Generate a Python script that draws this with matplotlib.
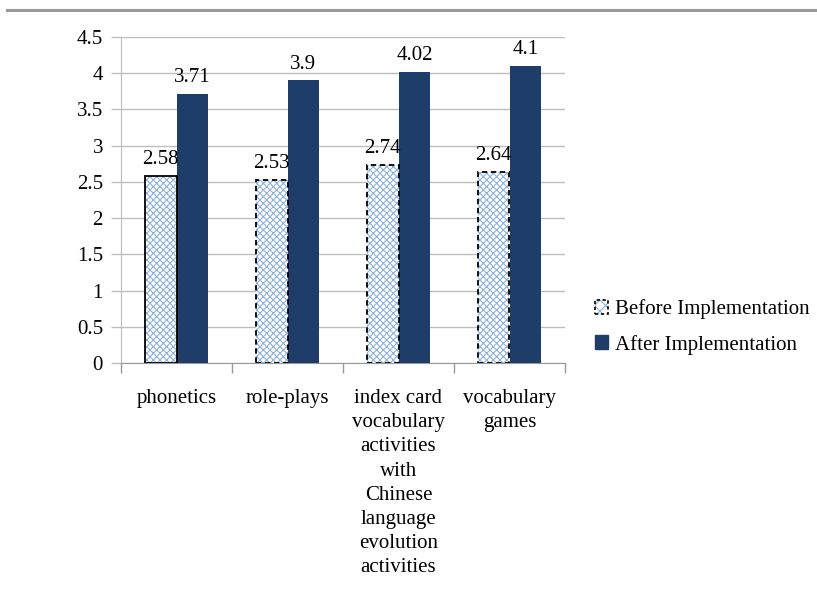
import matplotlib
matplotlib.use("Agg")
import matplotlib.pyplot as plt
from matplotlib.patches import Patch
from matplotlib.lines import Line2D
from matplotlib.legend_handler import HandlerTuple
import numpy as np

categories = [
    "phonetics",
    "role-plays",
    "index card\nvocabulary\nactivities\nwith\nChinese\nlanguage\nevolution\nactivities",
    "vocabulary\ngames",
]
before = [2.58, 2.53, 2.74, 2.64]
after = [3.71, 3.9, 4.02, 4.1]
y_ticks = [0, 0.5, 1, 1.5, 2, 2.5, 3, 3.5, 4, 4.5]
y_tick_labels = ["0", "0.5", "1", "1.5", "2", "2.5", "3", "3.5", "4", "4.5"]
series_names = ["Before Implementation", "After Implementation"]

plt.rcParams["font.family"] = ["Liberation Serif", "DejaVu Serif"]
plt.rcParams["hatch.linewidth"] = 0.8

AFTER_COLOR = "#1f3d69"
HATCH_COLOR = "#8fb1dd"
GRID_COLOR = "#bdbdbd"
FS = 15

fig = plt.figure(figsize=(8.17, 5.97), dpi=100)

# thin rule across the top of the page
fig.add_artist(Line2D([7 / 817, 1.0], [1 - 10 / 597, 1 - 10 / 597],
                      color="#9a9a9a", lw=2.2, transform=fig.transFigure))

ax = fig.add_axes([121 / 817, 234 / 597, 444 / 817, 326 / 597])

x = np.arange(len(categories))
w = 0.288

# Before bars: hatched, black outline (first solid, others dashed)
for i, v in enumerate(before):
    ls = "-" if i == 0 else (0, (3, 2))
    ax.bar(x[i] - w / 2, v, width=w, color="white", edgecolor=HATCH_COLOR,
           hatch="xxxxx", linewidth=0, zorder=3)
    ax.bar(x[i] - w / 2, v, width=w, fill=False, edgecolor="black",
           linewidth=1.3, linestyle=ls, zorder=4)
    ax.annotate(f"{v:g}", (x[i] - w / 2, v), xytext=(0, 5),
                textcoords="offset points", ha="center", va="bottom",
                fontsize=FS, zorder=5)

ax.bar(x + w / 2, after, width=w, color=AFTER_COLOR, linewidth=0, zorder=3)
for i, v in enumerate(after):
    ax.annotate(f"{v:g}", (x[i] + w / 2, v), xytext=(0, 5),
                textcoords="offset points", ha="center", va="bottom",
                fontsize=FS, zorder=5)

ax.set_xlim(-0.5, len(categories) - 0.5)
ax.set_ylim(0, 4.5)
ax.set_yticks(y_ticks)
ax.set_yticklabels(y_tick_labels, fontsize=FS)
ax.yaxis.grid(True, color=GRID_COLOR, lw=1, zorder=0)
ax.set_axisbelow(True)
ax.tick_params(axis="y", length=7, color=GRID_COLOR, width=1, pad=6)

ax.set_xticks(np.arange(-0.5, len(categories), 1.0))
ax.set_xticklabels([])
ax.set_xticks(x, minor=True)
ax.set_xticklabels(categories, minor=True, fontsize=FS, linespacing=1.36)
ax.tick_params(axis="x", which="major", length=7, color="#999999", width=1)
ax.tick_params(axis="x", which="minor", length=0, pad=19)

for side in ["top", "right"]:
    ax.spines[side].set_visible(False)
ax.spines["left"].set_color(GRID_COLOR)
ax.spines["bottom"].set_color("#999999")

before_handle = (
    Patch(facecolor="white", edgecolor=HATCH_COLOR, hatch="xxx", linewidth=0),
    Patch(fill=False, edgecolor="black", linewidth=1.2, linestyle=(0, (2, 1.5))),
)
after_handle = Patch(facecolor=AFTER_COLOR, edgecolor=AFTER_COLOR)
leg = fig.legend([before_handle, after_handle], series_names, loc="center left",
                 bbox_to_anchor=(576 / 817, 1 - 327 / 597), frameon=False,
                 fontsize=FS, handlelength=0.65, handleheight=0.65,
                 handletextpad=0.3, labelspacing=0.75,
                 handler_map={tuple: HandlerTuple(ndivide=1, pad=0)})

fig.savefig("out.png", dpi=100, facecolor="white")
